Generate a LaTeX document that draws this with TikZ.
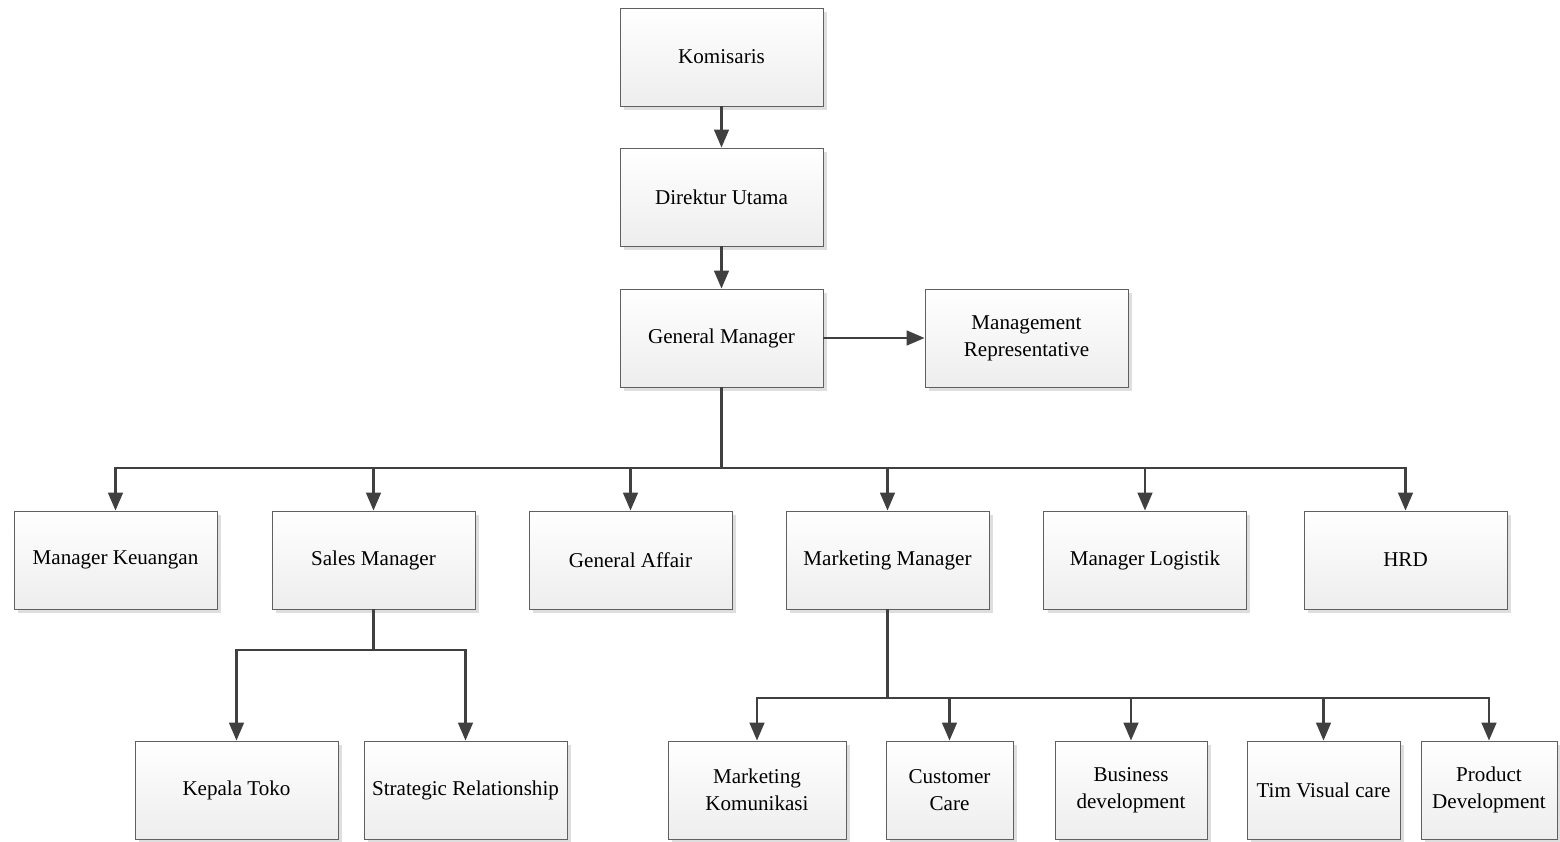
\documentclass[tikz,border=0pt]{standalone}
\usepackage{fontspec}
\setmainfont{Liberation Serif}
\usetikzlibrary{arrows.meta, positioning, shadows}
\definecolor{darkline}{RGB}{64,64,64}

\begin{document}
\begin{tikzpicture}[
    x=0.02cm, y=-0.02cm,
    box/.style={rectangle, draw=gray!75!black, top color=white, bottom color=gray!14, minimum width=4.06cm, minimum height=1.96cm, align=center, inner sep=2pt, drop shadow={shadow xshift=0.08cm, shadow yshift=-0.08cm, fill=black!13, opacity=1}, font=\fontsize{12}{15.3}\selectfont},
    arrow/.style={-{Triangle[length=0.36cm, width=0.29cm]}, line width=1.6pt, draw=darkline},
    link/.style={line width=1.6pt, draw=darkline}
]
\useasboundingbox (0,0) rectangle (1560,842);

% Top section
\node[box] (kom) at (721.5,57) {Komisaris};
\node[box] (dir) at (721.5,197) {Direktur Utama};
\node[box] (gm) at (721.5,338) {General Manager};
\node[box] (mr) at (1026.5,338) {Management\\Representative};

% Managers
\node[box] (keu) at (115.5,560) {Manager Keuangan};
\node[box] (sales) at (373.5,560) {Sales Manager};
\node[box] (ga) at (630.5,560) {General Affair};
\node[box] (mkt) at (887.5,560) {Marketing Manager};
\node[box] (log) at (1145,560) {Manager Logistik};
\node[box] (hrd) at (1405.5,560) {HRD};

% Under sales
\node[box] (toko) at (236.5,790) {Kepala Toko};
\node[box] (strat) at (465.5,790) {Strategic Relationship};

% Under marketing
\node[box, minimum width=3.56cm] (mkom) at (757,790) {Marketing\\Komunikasi};
\node[box, minimum width=2.54cm] (cc) at (949.5,790) {Customer\\Care};
\node[box, minimum width=3.04cm] (bd) at (1131,790) {Business\\development};
\node[box, minimum width=3.06cm] (tvc) at (1323.5,790) {Tim Visual care};
\node[box, minimum width=2.72cm] (pd) at (1489,790) {Product\\Development};

% Arrows
\draw[arrow] (kom) -- (dir);
\draw[arrow] (dir) -- (gm);
\draw[arrow] (gm) -- (mr);

\coordinate (bus) at (721.5,468);
\draw[link] (gm.south) -- (bus);
\foreach \n in {keu, sales, ga, mkt, log, hrd}
    \draw[arrow] (bus) -| (\n.north);

\coordinate (salesbus) at (373.5,650);
\draw[link] (sales.south) -- (salesbus);
\foreach \n in {toko, strat}
    \draw[arrow] (salesbus) -| (\n.north);

\coordinate (mktbus) at (887.5,698);
\draw[link] (mkt.south) -- (mktbus);
\foreach \n in {mkom, cc, bd, tvc, pd}
    \draw[arrow] (mktbus) -| (\n.north);

\end{tikzpicture}
\end{document}
